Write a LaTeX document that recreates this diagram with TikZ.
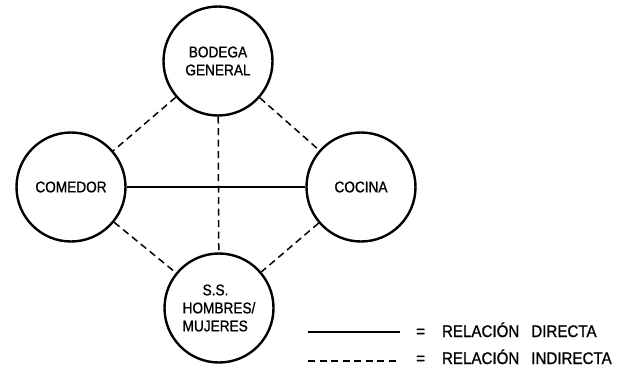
\documentclass[tikz,border=0pt]{standalone}
\usepackage{fontspec}
\setmainfont{Liberation Sans}[FakeStretch=0.88, FakeBold=1]
\newfontfamily\legendfont{Liberation Sans}[FakeStretch=0.9, FakeBold=1]
\usepackage{tikz}
\usetikzlibrary{positioning}

\begin{document}
\begin{tikzpicture}[
    x=1bp, y=-1bp,
    font=\fontsize{15.5bp}{18bp}\selectfont,
    room/.style={draw, circle, line width=2.4bp, minimum size=109bp, inner sep=0pt, align=center},
    direct/.style={line width=1.5bp},
    indirect/.style={line width=1.5bp, dash pattern=on 7bp off 4.5bp},
    legend/.style={anchor=base west, inner sep=0pt, font=\legendfont\fontsize{16.8bp}{18bp}\selectfont}
  ]
    \clip (0,0) rectangle (621,366);

    \node[room] (bodega) at (218,61) {BODEGA\\GENERAL};
    \node[room] (comedor) at (71,187) {COMEDOR};
    \node[room] (cocina) at (361,187) {COCINA};
    \node[room, align=left] (ss) at (219,308) {\hspace*{20bp}S.S.\\HOMBRES/\\MUJERES};

    \draw[direct] (comedor) -- (cocina);
    \draw[indirect] (bodega) -- (comedor);
    \draw[indirect] (bodega) -- (cocina);
    \draw[indirect] (bodega) -- (ss);
    \draw[indirect] (comedor) -- (ss);
    \draw[indirect] (cocina) -- (ss);

    % leyenda
    \coordinate (d1) at (308,332);
    \coordinate (d2) at (400,332);
    \coordinate (i1) at (308,361);
    \coordinate (i2) at (400,361);
    \draw[direct] (d1) -- (d2);
    \draw[indirect] (i1) -- (i2);
    \node[legend] (ldirecta) at (416,337) {=\hspace{17bp}RELACIÓN\hspace{12bp}DIRECTA};
    \node[legend] (lindirecta) at (416,364) {=\hspace{17bp}RELACIÓN\hspace{12bp}INDIRECTA};
\end{tikzpicture}
\end{document}
